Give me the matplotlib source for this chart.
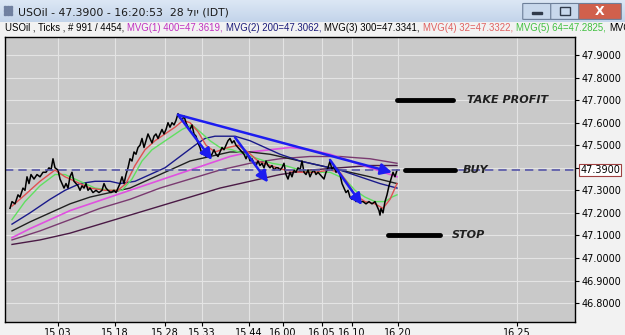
import numpy as np
import matplotlib
matplotlib.use('Agg')
import matplotlib.pyplot as plt
from matplotlib.patches import Rectangle, FancyBboxPatch
from matplotlib.transforms import blended_transform_factory

# ---- data (x = tick index, y = price) ----
price_x = [10, 12, 15, 18, 20, 23, 25, 27, 29, 31, 34, 37, 40, 43, 46, 49, 51, 53, 55, 58,
           60, 62, 64, 66, 68, 70, 72, 74, 76, 78, 80, 82, 84, 86, 88, 90, 93, 96, 99, 102,
           104, 106, 108, 111, 114, 116, 118, 120, 122, 124, 126, 128, 130, 132, 134, 136, 138, 140, 142, 144,
           146, 148, 150, 152, 154, 156, 158, 160, 162, 164, 166, 168, 170, 172, 174, 176, 178, 180, 182, 184,
           186, 188, 190, 192, 194, 196, 198, 200, 202, 204, 206, 208, 210, 212, 214, 216, 218, 220, 222, 224,
           226, 228, 230, 232, 234, 236, 238, 240, 242, 244, 246, 248, 250, 252, 254, 256, 258, 260, 262, 264,
           266, 268, 270, 272, 274, 276, 278, 280, 282, 284, 286, 288, 290, 292, 294, 296, 298, 300, 302, 304,
           306, 308, 310, 312, 314, 316, 318, 320, 322, 324, 326, 328, 330, 332, 334, 336, 338, 340, 342, 344,
           346, 348, 350, 352, 354, 356, 358, 360, 363, 366, 369, 372, 375, 377, 379, 380, 381, 383, 385, 387,
           389, 391, 393, 395, 397]
price_y = [47.22, 47.25, 47.24, 47.28, 47.27, 47.31, 47.30, 47.36, 47.33, 47.37, 47.35, 47.37, 47.36, 47.38, 47.38, 47.40, 47.39, 47.44, 47.40, 47.39,
           47.35, 47.33, 47.31, 47.33, 47.31, 47.36, 47.38, 47.34, 47.33, 47.32, 47.30, 47.32, 47.31, 47.33, 47.30, 47.31, 47.29, 47.30, 47.29, 47.30,
           47.33, 47.31, 47.30, 47.29, 47.30, 47.29, 47.31, 47.33, 47.36, 47.33, 47.37, 47.40, 47.44, 47.43, 47.47, 47.46, 47.49, 47.50, 47.53, 47.49,
           47.52, 47.55, 47.53, 47.51, 47.54, 47.55, 47.53, 47.55, 47.57, 47.55, 47.57, 47.60, 47.58, 47.60, 47.59, 47.61, 47.64, 47.62, 47.61, 47.63,
           47.60, 47.58, 47.57, 47.59, 47.55, 47.54, 47.51, 47.49, 47.46, 47.47, 47.45, 47.47, 47.45, 47.46, 47.48, 47.46, 47.45, 47.47, 47.49, 47.48,
           47.50, 47.52, 47.53, 47.51, 47.52, 47.50, 47.49, 47.48, 47.47, 47.46, 47.44, 47.46, 47.43, 47.44, 47.42, 47.41, 47.43, 47.41, 47.42, 47.40,
           47.43, 47.41, 47.40, 47.41, 47.39, 47.40, 47.40, 47.39, 47.40, 47.42, 47.37, 47.35, 47.38, 47.36, 47.39, 47.38, 47.40, 47.39, 47.43, 47.38,
           47.37, 47.39, 47.36, 47.38, 47.39, 47.37, 47.38, 47.37, 47.36, 47.35, 47.38, 47.40, 47.43, 47.39, 47.41, 47.38, 47.39, 47.37, 47.33, 47.31,
           47.29, 47.30, 47.27, 47.26, 47.27, 47.25, 47.26, 47.25, 47.25, 47.24, 47.25, 47.24, 47.25, 47.23, 47.21, 47.19, 47.22, 47.20, 47.25, 47.28,
           47.32, 47.35, 47.38, 47.36, 47.39]

red_x = [12, 25, 40, 55, 65, 75, 90, 105, 118, 126, 135, 145, 155, 165, 175, 183, 190, 198, 206,
         215, 228, 238, 248, 258, 270, 285, 300, 315, 330, 340, 348, 355, 365, 375, 383, 390, 397]
red_y = [47.23, 47.28, 47.34, 47.39, 47.36, 47.34, 47.31, 47.30, 47.30, 47.33, 47.41, 47.48, 47.52, 47.55, 47.58, 47.61, 47.60, 47.56, 47.50,
         47.47, 47.49, 47.50, 47.47, 47.43, 47.41, 47.39, 47.38, 47.38, 47.39, 47.38, 47.33, 47.28, 47.25, 47.24, 47.22, 47.26, 47.33]

green_x = [12, 25, 40, 55, 65, 80, 95, 110, 122, 132, 142, 152, 162, 172, 182, 192, 200, 210,
           220, 232, 245, 258, 272, 285, 300, 315, 330, 345, 355, 365, 375, 385, 392, 397]
green_y = [47.17, 47.25, 47.32, 47.37, 47.37, 47.34, 47.31, 47.30, 47.30, 47.35, 47.43, 47.48, 47.51, 47.54, 47.57, 47.59, 47.56, 47.52,
           47.49, 47.48, 47.46, 47.44, 47.42, 47.41, 47.39, 47.38, 47.38, 47.35, 47.30, 47.27, 47.25, 47.25, 47.27, 47.28]

blue_x = [12, 30, 50, 65, 80, 95, 110, 120, 135, 150, 165, 180, 195, 205, 215, 235, 250, 265, 280, 300, 320, 340, 360, 380, 397]
blue_y = [47.15, 47.20, 47.26, 47.30, 47.33, 47.34, 47.34, 47.33, 47.34, 47.37, 47.40, 47.45, 47.50, 47.53, 47.54, 47.54, 47.52, 47.49,
          47.46, 47.43, 47.41, 47.39, 47.36, 47.33, 47.31]

black_x = [12, 30, 50, 70, 90, 110, 130, 150, 170, 190, 210, 230, 250, 270, 290, 310, 330, 350, 370, 397]
black_y = [47.12, 47.16, 47.20, 47.24, 47.27, 47.29, 47.31, 47.35, 47.39, 47.43, 47.45, 47.47, 47.47, 47.46, 47.44, 47.42, 47.40, 47.38, 47.36, 47.33]

magenta_x = [12, 30, 50, 70, 90, 110, 130, 150, 170, 190, 210, 230, 250, 270, 290, 310, 330, 350, 370, 397]
magenta_y = [47.09, 47.13, 47.17, 47.21, 47.24, 47.27, 47.30, 47.33, 47.36, 47.39, 47.42, 47.45, 47.47, 47.48, 47.49, 47.48, 47.46, 47.43, 47.40, 47.36]

mauve_x = [12, 40, 70, 100, 130, 160, 190, 220, 250, 280, 310, 340, 370, 397]
mauve_y = [47.08, 47.12, 47.17, 47.22, 47.26, 47.31, 47.35, 47.39, 47.42, 47.44, 47.45, 47.45, 47.44, 47.42]

purple_x = [12, 40, 70, 100, 130, 160, 190, 220, 250, 280, 310, 340, 370, 397]
purple_y = [47.06, 47.08, 47.11, 47.15, 47.19, 47.23, 47.27, 47.31, 47.34, 47.37, 47.39, 47.40, 47.41, 47.41]

# drawn trend arrows: (x0, y0, x1, y1)
arrows = [(178, 47.635, 212, 47.435),
          (235, 47.535, 268, 47.335),
          (330, 47.435, 362, 47.235),
          (178, 47.635, 392, 47.380)]

levels = {'TAKE PROFIT': (47.70, 397, 453, 467),
          'BUY': (47.39, 405, 455, 463),
          'STOP': (47.10, 388, 440, 452)}
last_price = 47.39

x_ticks = [58, 115, 165, 202, 249, 283, 322, 352, 398, 517]
x_labels = ['15.03', '15.18', '15.28', '15.33', '15.44', '16.00', '16.05', '16.10', '16.20', '16.25']
y_ticks = [46.8, 46.9, 47.0, 47.1, 47.2, 47.3, 47.4, 47.5, 47.6, 47.7, 47.8, 47.9]

fig = plt.figure(figsize=(6.25, 3.35), dpi=100, facecolor='#f2f2f2')

# title bar
bar = fig.add_axes([0, 313 / 335, 1, 22 / 335])
grad = np.linspace(0, 1, 50).reshape(-1, 1)
bar.imshow(grad, aspect='auto', cmap=matplotlib.colors.LinearSegmentedColormap.from_list('t', ['#dce7f5', '#c3d4ea']),
           extent=(0, 1, 0, 1))
bar.set_xlim(0, 1)
bar.set_ylim(0, 1)
bar.axis('off')
bar.text(18 / 625, 0.45, 'USOil - 47.3900 - 16:20:53  28 לוי (IDT)', fontsize=7.8, va='center', color='#1a1a1a')
for i in range(3):
    for j in range(3):
        bar.add_patch(Rectangle(((4 + i * 3) / 625, 0.3 + j * 0.17), 1.6 / 625, 0.1, color='#7080a0'))
# window buttons
for (bx, bw, col) in [(524, 26, '#c8d8ec'), (552, 26, '#c8d8ec'), (580, 40, '#d0604c')]:
    bar.add_patch(FancyBboxPatch((bx / 625, 0.12), bw / 625, 0.72, boxstyle='round,pad=0.002,rounding_size=0.005',
                                 fc=col, ec='#6d7f99', lw=0.8))
bar.add_patch(Rectangle((532 / 625, 0.35), 10 / 625, 0.1, color='#303a4a'))
bar.add_patch(Rectangle((560 / 625, 0.3), 10 / 625, 0.4, fc='none', ec='#303a4a', lw=1))
bar.text(600 / 625, 0.48, 'X', fontsize=9, fontweight='bold', color='white', ha='center', va='center')

# info line, pieces placed one after another
info = [('USOil , Ticks , # 991 / 4454,', 'black'),
        ('MVG(1) 400=47.3619,', '#c030c0'),
        ('MVG(2) 200=47.3062,', '#1a1a7a'),
        ('MVG(3) 300=47.3341,', 'black'),
        ('MVG(4) 32=47.3322,', '#e06060'),
        ('MVG(5) 64=47.2825,', '#40c040'),
        ('MVG', 'black')]
renderer = fig.canvas.get_renderer()
xpos = 5
for s, c in info:
    t = fig.text(xpos / 625, 1 - 28 / 335, s, fontsize=6.9, color=c, va='center', family='Liberation Sans')
    xpos = t.get_window_extent(renderer).x1 + 3

ax = fig.add_axes([5 / 625, 13 / 335, 570 / 625, 285 / 335])
ax.set_facecolor('#c9c9c9')
ax.set_xlim(5, 575)
ax.set_ylim(46.716, 47.98)
ax.set_yticks(y_ticks)
ax.set_yticklabels([f'{v:.4f}' for v in y_ticks])
ax.set_xticks(x_ticks)
ax.set_xticklabels(x_labels)
ax.yaxis.tick_right()
ax.tick_params(axis='y', labelsize=7, length=3, pad=1.5)
ax.tick_params(axis='x', labelsize=7, length=3, pad=1.5)
ax.grid(True, color='#e4e4e4', lw=0.8)
ax.set_axisbelow(True)
for sp in ax.spines.values():
    sp.set_color('black')
    sp.set_linewidth(1)

ax.plot(purple_x, purple_y, color='#4a1a45', lw=1)
ax.plot(mauve_x, mauve_y, color='#7a3a70', lw=1)
ax.plot(magenta_x, magenta_y, color='#e050e0', lw=1.2)
ax.plot(black_x, black_y, color='#202020', lw=1)
ax.plot(blue_x, blue_y, color='#1a1a8a', lw=1)
ax.plot(green_x, green_y, color='#60e060', lw=1)
ax.plot(red_x, red_y, color='#e05050', lw=1)
ax.plot(price_x, price_y, color='black', lw=1.1)

ax.axhline(last_price, color='#5656a8', lw=1.2, ls=(0, (5, 3)))

for x0, y0, x1, y1 in arrows:
    ax.annotate('', xy=(x1, y1), xytext=(x0, y0),
                arrowprops=dict(arrowstyle='-|>', color='#1c1cf0', lw=1.8, mutation_scale=17,
                                shrinkA=0, shrinkB=0))

for name, (lvl, xa, xb, xt) in levels.items():
    ax.plot([xa, xb], [lvl, lvl], color='black', lw=3.5, solid_capstyle='round')
    ax.text(xt, lvl, name, fontsize=8, fontstyle='italic', fontweight='bold', color='#202020', va='center')

tr = blended_transform_factory(ax.transAxes, ax.transData)
ax.text(1.009, last_price, f'{last_price:.4f}', transform=tr, fontsize=7, va='center', ha='left',
        bbox=dict(boxstyle='square,pad=0.15', fc='white', ec='#a04040', lw=0.8), clip_on=False)

fig.savefig('out.png', dpi=100, facecolor=fig.get_facecolor())
